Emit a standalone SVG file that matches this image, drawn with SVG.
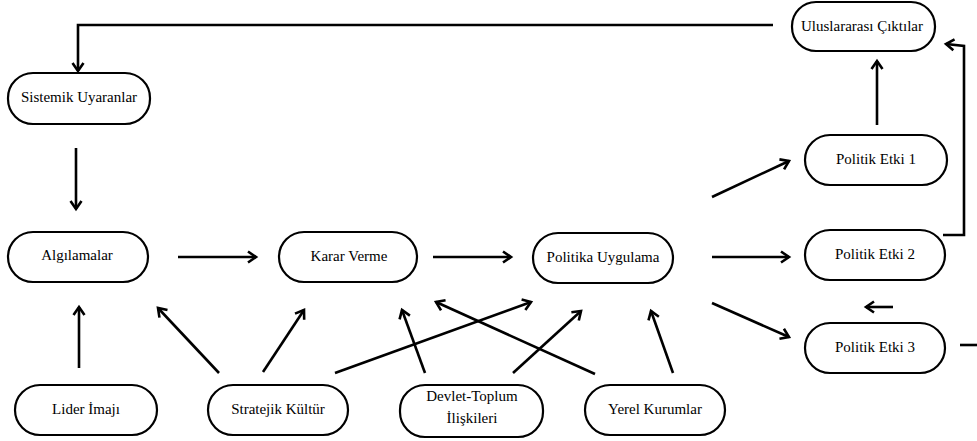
<svg xmlns="http://www.w3.org/2000/svg" width="977" height="441" viewBox="0 0 977 441">
<style>
.node rect{fill:#fff;stroke:#000;stroke-width:2.2}
.node text{font-family:'Liberation Serif','Times New Roman',serif;font-size:15px;fill:#000;text-anchor:middle}
.c{fill:none;stroke:#000;stroke-width:2.6;marker-end:url(#ah)}
.p{fill:none;stroke:#000;stroke-width:2.6}
</style>
<defs>
<marker id="ah" markerUnits="userSpaceOnUse" markerWidth="16" markerHeight="16" viewBox="-10 -8 14 16" refX="0" refY="0" orient="auto">
<path d="M-8,-5.5 L0,0 L-8,5.5" fill="none" stroke="#000" stroke-width="2.6" stroke-linejoin="miter"/>
</marker>
</defs>
<rect width="977" height="441" fill="#fff"/>
<g id="connectors">
<path class="c" d="M773,25 L78,25 L78,71"/>
<path class="c" d="M76,148 L76,209"/>
<path class="c" d="M877,125 L877,61"/>
<path class="c" d="M712,197 L789,161"/>
<path class="c" d="M943,235 L964,235 L964,46 L946,44"/>
<path class="c" d="M178,257 L256,257"/>
<path class="c" d="M433,257 L511,257"/>
<path class="c" d="M712,257 L789,257"/>
<path class="c" d="M712,303 L789,337"/>
<path class="c" d="M893,307 L866,307"/>
<path class="p" d="M960,345 L977,345"/>
<path class="c" d="M79,368 L79,307"/>
<path class="c" d="M219,373 L158,308"/>
<path class="c" d="M263,372 L304,310"/>
<path class="c" d="M335,373 L531,302"/>
<path class="c" d="M425,373 L402,310"/>
<path class="c" d="M513,373 L581,311"/>
<path class="c" d="M595,374 L436,302"/>
<path class="c" d="M673,373 L651,311"/>
</g>
<g id="sistemik" class="node"><rect x="8" y="73" width="142" height="51" rx="25"/><text x="79" y="102">Sistemik Uyaranlar</text></g>
<g id="uluslararasi" class="node"><rect x="792" y="2" width="143" height="49" rx="24"/><text x="862" y="31">Uluslararası Çıktılar</text></g>
<g id="etki1" class="node"><rect x="805" y="135" width="142" height="50" rx="25"/><text x="876" y="164">Politik Etki 1</text></g>
<g id="algilamalar" class="node"><rect x="8" y="232" width="140" height="50" rx="25"/><text x="77" y="260">Algılamalar</text></g>
<g id="karar" class="node"><rect x="279" y="232" width="138" height="50" rx="25"/><text x="349" y="261">Karar Verme</text></g>
<g id="politika" class="node"><rect x="533" y="233" width="140" height="50" rx="25"/><text x="603" y="262">Politika Uygulama</text></g>
<g id="etki2" class="node"><rect x="805" y="230" width="140" height="50" rx="25"/><text x="875" y="259">Politik Etki 2</text></g>
<g id="etki3" class="node"><rect x="805" y="323" width="140" height="50" rx="25"/><text x="875" y="352">Politik Etki 3</text></g>
<g id="lider" class="node"><rect x="15" y="385" width="142" height="50" rx="25"/><text x="86" y="414">Lider İmajı</text></g>
<g id="stratejik" class="node"><rect x="208" y="385" width="140" height="50" rx="25"/><text x="278" y="414">Stratejik Kültür</text></g>
<g id="devlet" class="node"><rect x="400" y="385" width="143" height="52" rx="25"/><text x="472" y="401">Devlet-Toplum</text><text x="472" y="423">İlişkileri</text></g>
<g id="yerel" class="node"><rect x="585" y="385" width="140" height="50" rx="25"/><text x="655" y="414">Yerel Kurumlar</text></g>
</svg>
